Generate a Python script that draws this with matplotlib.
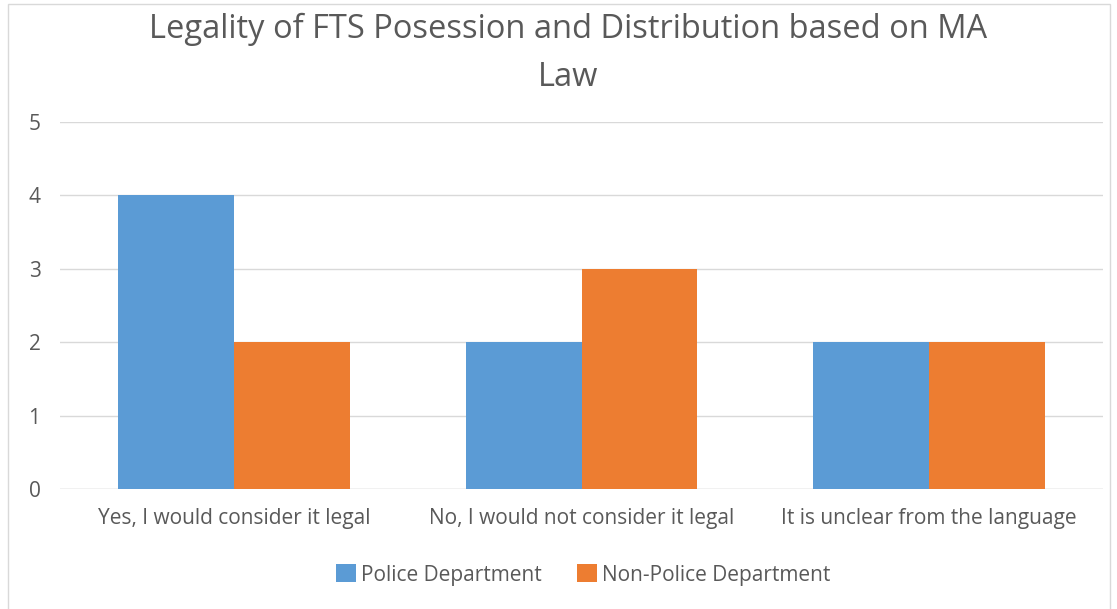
import matplotlib
matplotlib.use("Agg")
import matplotlib.pyplot as plt
import numpy as np
from matplotlib.patches import Rectangle

categories = ["Yes, I would consider it legal", "No, I would not consider it legal", "It is unclear from the language"]
series_names = ["Police Department", "Non-Police Department"]
police = [4, 2, 2]
non_police = [2, 3, 2]
colors = ["#5B9BD5", "#ED7D31"]
title = "Legality of FTS Posession and Distribution based on MA\nLaw"

plt.rcParams['font.family'] = ['Open Sans', 'DejaVu Sans']
W, H = 1117, 609
fig = plt.figure(figsize=(W/100, H/100), dpi=100)
fig.patch.set_facecolor("white")

# chart border
fig.add_artist(Rectangle((8/W, -0.01), (1110-8)/W, 1.01 - 4/H, transform=fig.transFigure,
                         fill=False, edgecolor="#D9D9D9", linewidth=1))

left, right, top, bottom = 60, 1103, 122, 489
ax = fig.add_axes([left/W, 1 - bottom/H, (right-left)/W, (bottom-top)/H])
x = np.arange(len(categories))
bw = 0.333
ax.bar(x - bw/2, police, bw, color=colors[0], label=series_names[0], zorder=3)
ax.bar(x + bw/2, non_police, bw, color=colors[1], label=series_names[1], zorder=3)
ax.set_xlim(-0.5, len(categories) - 0.5)
ax.set_ylim(0, 5)
ax.set_yticks(range(0, 6))
ax.yaxis.grid(True, color="#D9D9D9", linewidth=1, zorder=0)
ax.set_xticks(x)
ax.set_xticklabels(categories)
for s in ax.spines.values():
    s.set_visible(False)
ax.tick_params(axis='both', length=0, colors="#595959", labelsize=15)
ax.tick_params(axis='y', pad=14)
ax.tick_params(axis='x', pad=14)
ax.axhline(0, color="#D9D9D9", linewidth=1, zorder=2)

fig.text(568/W, 1 - 53/H, title, ha="center", va="center", fontsize=23.5,
         color="#595959", linespacing=1.6)

fig.legend(loc="center", bbox_to_anchor=(583/W, 1 - 575/H), ncol=2, frameon=False,
           fontsize=15, labelcolor="#595959", handlelength=0.95, handleheight=0.95,
           handletextpad=0.25, columnspacing=1.7)

fig.savefig("out.png", dpi=100, facecolor="white")
